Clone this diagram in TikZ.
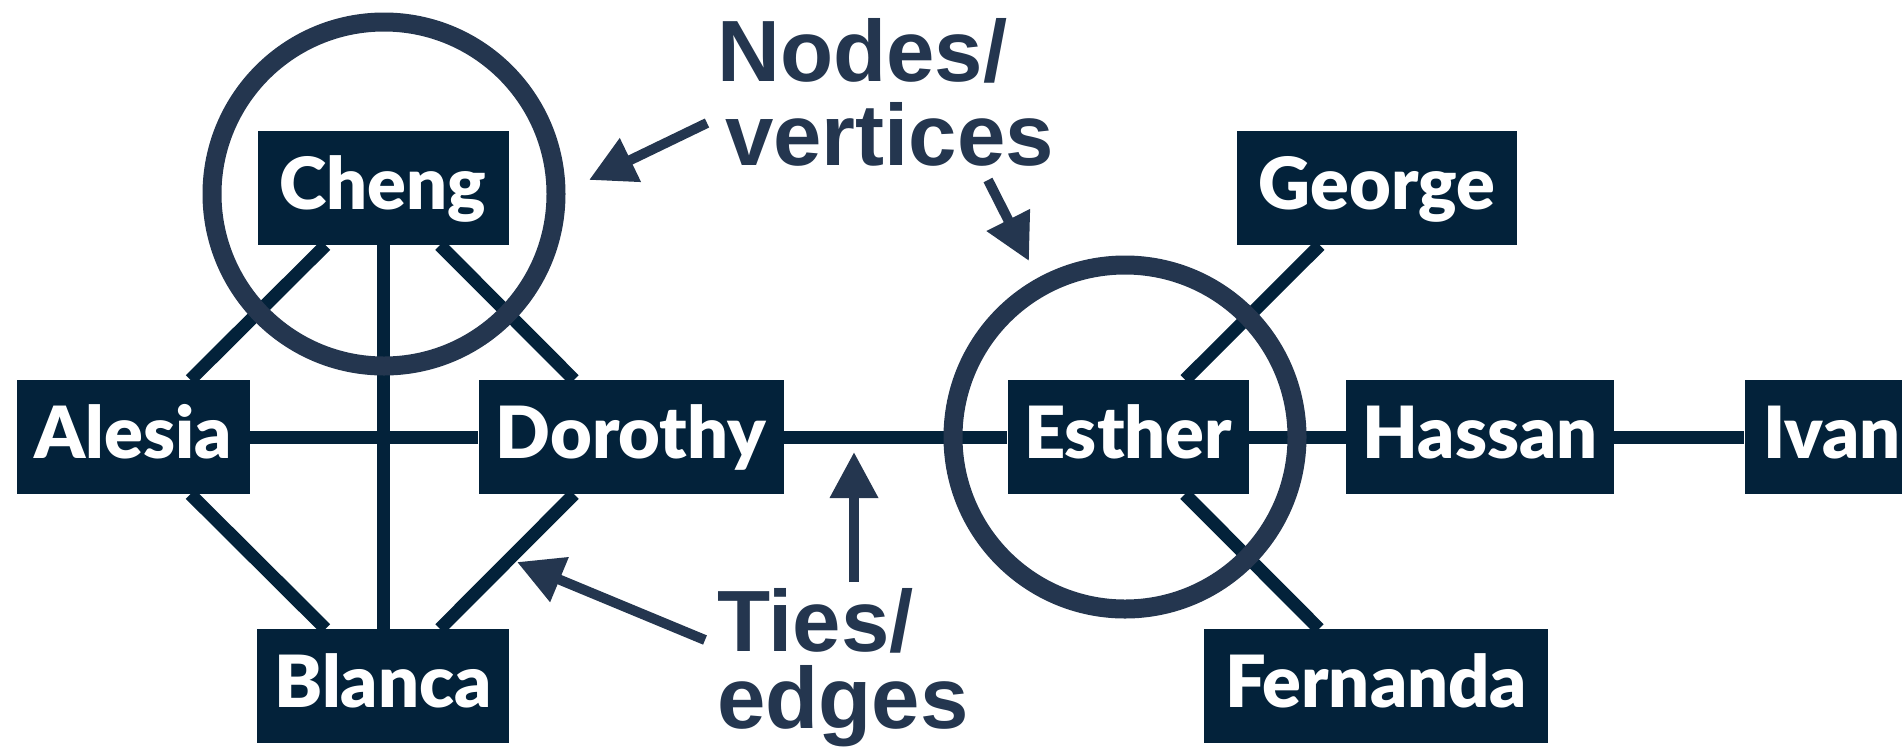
\documentclass[tikz,border=0pt]{standalone}
\usepackage{fontspec}
\usepackage{tikz}
\usetikzlibrary{arrows.meta}
\newfontfamily\namefont{Lato}[BoldFont={Lato Black}]
\newfontfamily\notefont{Liberation Sans}
\definecolor{nd}{HTML}{03223A}
\definecolor{an}{HTML}{24364F}
\tikzset{
  person/.style={fill=nd,text=white,minimum height=114pt,inner sep=0pt,font=\namefont\bfseries\fontsize{72}{72}\selectfont,text height=51pt,text depth=9pt},
  tie/.style={color=nd,line width=13pt},
  ring/.style={color=an,line width=19pt},
  note/.style={text=an,inner sep=0pt,anchor=base west,align=left,font=\notefont\bfseries\fontsize{87}{84}\selectfont},
  pointer/.style={color=an,line width=10pt,-{Triangle[length=46pt,width=46pt]}}
}

\begin{document}
\begin{tikzpicture}[x=1pt,y=-1pt]
            \clip (0,0) rectangle (1902,748);
            \node[person,minimum width=251pt] (cheng) at (383,188) {Cheng};
            \node[person,minimum width=233pt] (alesia) at (133,437) {Alesia};
            \node[person,minimum width=305pt] (dorothy) at (631,437) {Dorothy};
            \node[person,minimum width=252pt] (blanca) at (383,686) {Blanca};
            \node[person,minimum width=241pt] (esther) at (1128,437) {Esther};
            \node[person,minimum width=280pt] (george) at (1377,188) {George};
            \node[person,minimum width=344pt] (fernanda) at (1376,686) {Fernanda};
            \node[person,minimum width=268pt] (hassan) at (1480,437) {Hassan};
            \node[person,minimum width=175pt] (ivan) at (1832,437) {Ivan};
            \draw[tie] (cheng) -- (alesia);
            \draw[tie] (cheng) -- (blanca);
            \draw[tie] (cheng) -- (dorothy);
            \draw[tie] (alesia) -- (dorothy);
            \draw[tie] (alesia) -- (blanca);
            \draw[tie] (dorothy) -- (blanca);
            \draw[tie] (dorothy) -- (esther);
            \draw[tie] (esther) -- (george);
            \draw[tie] (esther) -- (fernanda);
            \draw[tie] (esther) -- (hassan);
            \draw[tie] (hassan) -- (ivan);
            \draw[ring] (384,194) circle (172pt);
            \draw[ring] (1125,437) circle (172pt);
            \node[note] (vertlbl) at (717,165) {Nodes/\\\hspace*{8pt}vertices};
            \node[note,font=\notefont\bfseries\fontsize{87}{77}\selectfont] (edgelbl) at (717,728) {Ties/\\edges};
            \coordinate (from1) at (707,123); \coordinate (to1) at (589,180);
            \coordinate (from2) at (988,180); \coordinate (to2) at (1029,261);
            \coordinate (from3) at (854,582); \coordinate (to3) at (854,452);
            \coordinate (from4) at (705,640); \coordinate (to4) at (517,562);
            \draw[pointer] (from1) -- (to1);
            \draw[pointer] (from2) -- (to2);
            \draw[pointer] (from3) -- (to3);
            \draw[pointer] (from4) -- (to4);
          \end{tikzpicture}
\end{document}
